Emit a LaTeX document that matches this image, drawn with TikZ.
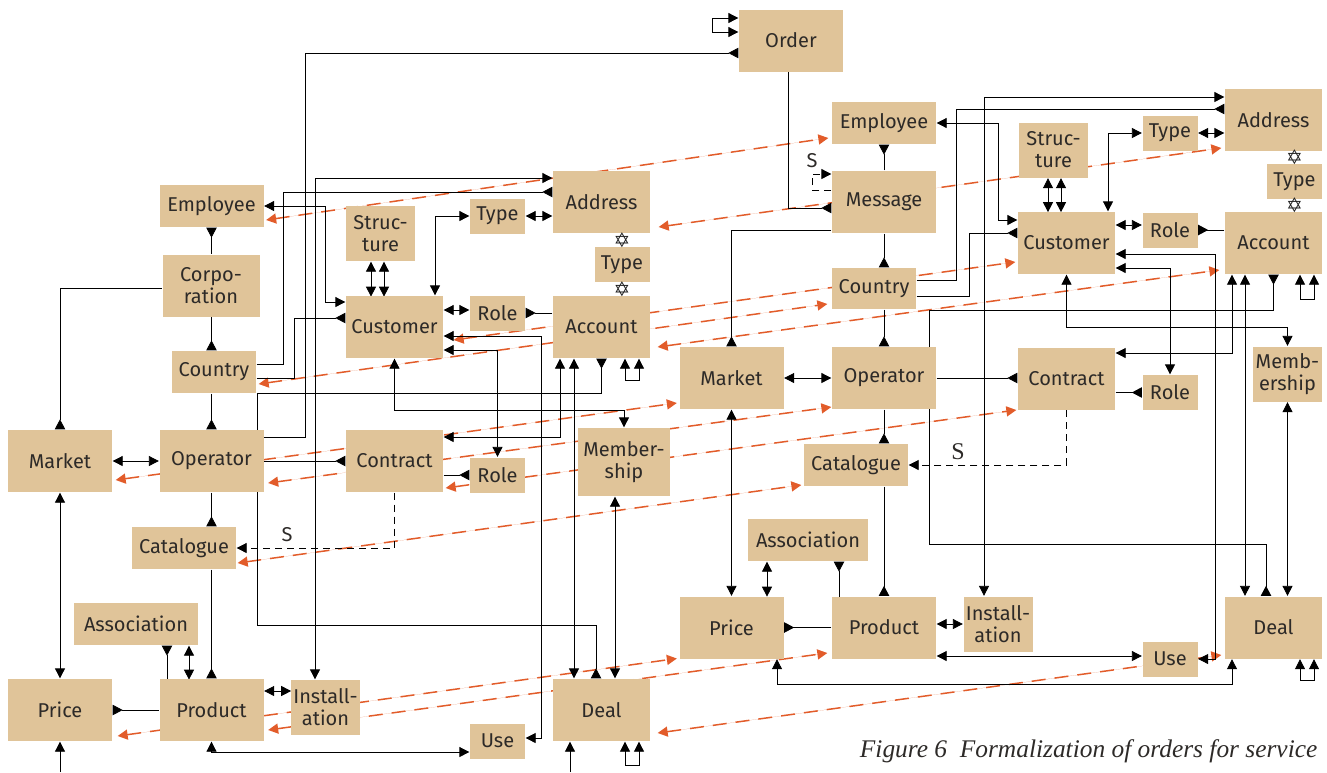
\documentclass[tikz,border=0pt]{standalone}
\usepackage{fontspec}
\setmainfont{Fira Sans}
\newfontfamily\capfont{Liberation Serif}
\newfontfamily\symfont{DejaVu Sans}
\usepackage{tikz}
\usetikzlibrary{arrows.meta, calc, backgrounds}
\definecolor{boxfill}{RGB}{224,196,153}
\definecolor{boxtext}{RGB}{45,42,40}
\definecolor{link}{RGB}{30,30,30}
\definecolor{mapcol}{RGB}{226,92,42}
\tikzset{
  many/.tip={Triangle[reversed, length=5pt, width=5.2pt]},
  box/.style={fill=boxfill, text=boxtext, inner sep=0pt, align=center,
    font=\fontsize{10}{11}\selectfont},
  big/.style={box, minimum width=48.5pt, minimum height=31pt},
  wide/.style={box, minimum width=52pt, minimum height=31pt},
  flat/.style={box, minimum width=52pt, minimum height=21pt},
  small/.style={box, minimum width=27.5pt, minimum height=17.5pt},
  duo/.style={box, minimum width=34.5pt, minimum height=27.5pt},
  mapping/.style={<->, draw=mapcol, fill=mapcol, line width=0.75pt,
    dash pattern=on 7pt off 4.5pt},
  subtype/.style={->, dash pattern=on 3.5pt off 2.5pt},
  star/.style={font=\symfont\bfseries\fontsize{10}{10}\selectfont, inner sep=0pt, text=link},
  lbl/.style={text=boxtext, inner sep=0pt, font=\fontsize{10}{10}\selectfont},
}

\begin{document}
\begin{tikzpicture}[x=0.5pt, y=-0.5pt, >={Triangle[length=5pt, width=5pt]},
    line width=0.65pt, color=link]
    \useasboundingbox (0,0) rectangle (1327,772);
    % left model
    \node[flat] (emplL) at (211.5,206) {Employee};
    \node[big] (corpL) at (211,285.5) {Corpo-\\ration};
    \node[box, minimum width=42pt, minimum height=21pt] (cntyL) at (214,372) {Country};
    \node[wide] (mktL) at (60,461) {Market};
    \node[wide] (opL) at (211.5,461) {Operator};
    \node[flat] (catL) at (184,548) {Catalogue};
    \node[box, minimum width=62pt, minimum height=21pt] (assocL) at (136,624) {Association};
    \node[wide] (priceL) at (60,710) {Price};
    \node[wide] (prodL) at (211.5,710) {Product};
    \node[duo] (instL) at (325.5,707.5) {Install-\\ation};
    \node[small] (useL) at (497.5,741) {Use};
    \node[big] (dealL) at (601.5,710) {Deal};
    \node[duo] (strucL) at (380.5,233.5) {Struc-\\ture};
    \node[small] (typeL) at (497.5,216) {Type};
    \node[big] (addrL) at (601.5,202) {Address};
    \node[small] (type2L) at (622,264.5) {Type};
    \node[big] (custL) at (394.5,327) {Customer};
    \node[small] (role1L) at (497.5,313) {Role};
    \node[big] (acctL) at (601.5,327) {Account};
    \node[big] (contL) at (394.5,461) {Contract};
    \node[small] (role2L) at (497.5,475) {Role};
    \node[box, minimum width=46pt, minimum height=34pt] (membL) at (624,462) {Member-\\ship};
    \node[star] (st1L) at (622,240) {✡};
    \node[star] (st2L) at (622,289) {✡};
    \node[lbl] (sL) at (287,535) {S};
    % right model
    \node[wide] (order) at (791,40.5) {Order};
    \node[flat] (emplR) at (884,123) {Employee};
    \node[wide] (msg) at (884,202) {Message};
    \node[box, minimum width=42pt, minimum height=20.5pt] (cntyR) at (874,288.5) {Country};
    \node[wide] (mktR) at (731.5,378) {Market};
    \node[wide] (opR) at (884,378) {Operator};
    \node[flat] (catR) at (856,465) {Catalogue};
    \node[box, minimum width=60pt, minimum height=21pt] (assocR) at (808,540) {Association};
    \node[wide] (priceR) at (731.5,627.5) {Price};
    \node[wide] (prodR) at (884,627.5) {Product};
    \node[duo] (instR) at (998,624) {Install-\\ation};
    \node[small] (useR) at (1170,659) {Use};
    \node[big] (dealR) at (1273.5,627.5) {Deal};
    \node[duo] (strucR) at (1053.5,150) {Struc-\\ture};
    \node[small] (typeR) at (1170,133) {Type};
    \node[big] (addrR) at (1273.5,120) {Address};
    \node[small] (type2R) at (1294.5,181.5) {Type};
    \node[big] (custR) at (1066.5,243) {Customer};
    \node[small] (role1R) at (1170,230) {Role};
    \node[big] (acctR) at (1273.5,243) {Account};
    \node[big] (contR) at (1066.5,378.5) {Contract};
    \node[small] (role2R) at (1170,392.5) {Role};
    \node[duo] (membR) at (1287.5,374) {Memb-\\ership};
    \node[star] (st1R) at (1294.5,157.5) {✡};
    \node[star] (st2R) at (1294.5,205.5) {✡};
    \node[lbl] (sM) at (812,161) {S};
    \node[text=boxtext, inner sep=0pt, font=\capfont\fontsize{12}{12}\selectfont] (sR) at (958,452) {S};
    \node[anchor=base east, inner sep=0pt, text=boxtext,
      font=\capfont\itshape\fontsize{12.7}{14}\selectfont] (caption) at (1318,757)
      {Figure 6\ \ Formalization of orders for service};
    \coordinate (inPL) at (60,772);
    \coordinate (inDL) at (570,772);

    \begin{scope}[on background layer]
    % mappings between the two models
    \draw[mapping] ($(emplL.east)+(2,14)$) -- ($(emplR.west)+(-3,15)$);
    \draw[mapping] ($(addrL.east)+(8,25)$) -- ($(addrR.west)+(-3,28)$);
    \draw[mapping] ($(cntyL.east)+(2,12)$) -- ($(cntyR.west)+(-4,15.5)$);
    \draw[mapping] ($(custL.east)+(10,13)$) -- ($(custR.west)+(-2,19)$);
    \draw[mapping] ($(acctL.east)+(7,20)$) -- ($(acctR.west)+(-5,27)$);
    \draw[mapping] ($(mktL.east)+(3,19)$) -- ($(mktR.west)+(-2,25)$);
    \draw[mapping] ($(opL.east)+(4,22)$) -- ($(opR.west)+(0,29)$);
    \draw[mapping] ($(contL.east)+(2,27)$) -- ($(contR.west)+(-1,31.5)$);
    \draw[mapping] ($(catL.east)+(1,15)$) -- ($(catR.west)+(-2,20)$);
    \draw[mapping] ($(priceL.east)+(5,26)$) -- ($(priceR.west)+(-2,31)$);
    \draw[mapping] ($(prodL.east)+(4,20)$) -- ($(prodR.west)+(-4,25.5)$);
    \draw[mapping] ($(dealL.east)+(7,23)$) -- ($(dealR.west)+(-3,27.5)$);

    % left model links
    \draw[-many] ($(opL.north east)+(0,8)$) -| (305,53) -- ($(order.west)+(0,12.5)$);
    \draw[-many] (emplL.south |- corpL.north) -- (emplL.south);
    \draw[-many] (emplL.south |- corpL.south) -- (emplL.south |- cntyL.north);
    \draw[-many] (opL.north |- cntyL.south) -- (opL.north);
    \draw[-many] ($(corpL.west)+(0,2.5)$) -| (mktL.north);
    \draw[<->] (mktL.east) -- (opL.west);
    \draw[-many] (opL.south) -- (opL.south |- catL.north);
    \draw[-many] (opL.south |- catL.south) -- (prodL.north);
    \draw[<->] (mktL.south) -- (priceL.north);
    \draw[->] (inPL) -- (priceL.south);
    \draw[-many] (prodL.west) -- (priceL.east);
    \draw[-many] ($(assocL.south)+(31,34)$) -- ($(assocL.south)+(31,0)$);
    \draw[<->] ($(assocL.south)+(53,0)$) -- ++(0,34);
    \draw[<->] ($(prodL.east)+(0,-19)$) -- ++(27,0);
    \draw[<->] (prodL.south) |- ($(useL.west)+(0,11)$);
    \draw[<->] ($(custL.east)+(0,9)$) -| (541,738) -- ($(useL.east)+(0,-3)$);
    \draw[<->] ($(custL.east)+(0,23)$) -| (role2L.north);
    \draw[<->] ($(custL.east)+(0,-17)$) -- ($(role1L.west)+(0,-3)$);
    \draw[-many] (acctL.west |- role1L.east) -- (role1L.east);
    \draw[<->] ($(strucL.south)+(-9.5,0)$) -- ++(0,35);
    \draw[<->] ($(strucL.south)+(3.5,0)$) -- ++(0,35);
    \draw[<->] ($(custL.north)+(40.5,0)$) |- (typeL.west);
    \draw[<->] (typeL.east) -- (typeL.east -| addrL.west);
    \draw[<->] (emplL.east) -| (325,302) -- ($(custL.west)+(0,-25)$);
    \draw[-many] ($(cntyL.east)+(0,6)$) -| (294,318) -- ($(custL.west)+(0,-9)$);
    \draw[-many] ($(cntyL.east)+(0,-8)$) -| (283,192) -- ($(addrL.west)+(0,-10)$);
    \draw[<->] ($(instL.north)+(-10.5,0)$) |- ($(addrL.west)+(0,-24)$);
    \draw[many-many] (acctL.south) |- (257,393) |- (596,625) -- ($(dealL.north)+(-5.5,0)$);
    \draw[<->] ($(acctL.south)+(-41.5,0)$) |- ($(contL.east)+(0,-24)$);
    \draw[<->] ($(acctL.south)+(-27.5,0)$) -- ($(dealL.north)+(-27.5,0)$);
    \draw[<->] ($(acctL.south)+(23.5,0)$) -- ++(0,22) -- ++(14,0) -- ++(0,-22);
    \draw[<->] (custL.south) -- ++(0,52) -| (membL.north);
    \draw[<->] ($(membL.south)+(-9,0)$) -- ($(dealL.north)+(13.5,0)$);
    \draw[-many] (opL.east) -- (contL.west);
    \draw[-many] (contL.east |- role2L.west) -- (role2L.west);
    \draw[subtype] (contL.south) |- (catL.east);
    \draw[->] (inDL) -- (inDL |- dealL.south);
    \draw[<->] ($(dealL.south)+(23.5,0)$) -- ++(0,24) -- ++(14,0) -- ++(0,-24);

    % right model links
    \draw[<->] ($(order.west)+(0,-22.5)$) -- ++(-26,0) -- ++(0,14) -- ++(26,0);
    \draw[-many] ($(order.south)+(-3,0)$) |- ($(msg.west)+(0,6)$);
    \draw[-many] (msg.north) -- (emplR.south);
    \draw[subtype] ($(msg.west)+(0,-12)$) -- ++(-19,0) -- ++(0,-16) -- ++(19,0);
    \draw[-many] ($(msg.west)+(0,28)$) -| (mktR.north);
    \draw[-many] (msg.south) -- (msg.south |- cntyR.north);
    \draw[-many] (opR.north |- cntyR.south) -- (opR.north);
    \draw[-many] (opR.south) -- (opR.south |- catR.north);
    \draw[-many] (opR.south |- catR.south) -- (prodR.north);
    \draw[<->] (mktR.east) -- (opR.west);
    \draw[-many] (opR.east) -- (contR.west |- opR.east);
    \draw[<->] (mktR.south) -- (priceR.north);
    \draw[<->] ($(assocR.south)+(-41,0)$) -- ++(0,35);
    \draw[-many] ($(assocR.south)+(31,35)$) -- ($(assocR.south)+(31,0)$);
    \draw[-many] (prodR.west) -- (priceR.east);
    \draw[<->] ($(priceR.south)+(45.5,0)$) |- (1232,684) -- ($(dealR.south)+(-41.5,0)$);
    \draw[<->] (prodR.east |- instR.west) -- (instR.west);
    \draw[<->] ($(prodR.east)+(0,28.5)$) -- ($(useR.west)+(0,-3)$);
    \draw[<->] ($(custR.east)+(0,11)$) -| (1215,659) -- (useR.east);
    \draw[<->] ($(custR.east)+(0,25)$) -| (role2R.north);
    \draw[<->] ($(custR.east)+(0,-18)$) -- ($(role1R.west)+(0,-5)$);
    \draw[-many] (acctR.west |- role1R.east) -- (role1R.east);
    \draw[<->] ($(strucR.south)+(-5.5,0)$) -- ++(0,34);
    \draw[<->] ($(strucR.south)+(7.5,0)$) -- ++(0,34);
    \draw[<->] ($(custR.north)+(41.5,0)$) |- (typeR.west);
    \draw[<->] (typeR.east) -- (typeR.east -| addrR.west);
    \draw[<->] (emplR.east) -| (998,220) -- ($(custR.west)+(0,-23)$);
    \draw[-many] ($(cntyR.east)+(0,7.5)$) -| (969,233) -- ($(custR.west)+(0,-10)$);
    \draw[-many] ($(cntyR.east)+(0,-8.5)$) -| (956,109) -- ($(addrR.west)+(0,-11)$);
    \draw[<->] ($(instR.north)+(-14,0)$) |- ($(addrR.west)+(0,-23)$);
    \draw[many-many] (acctR.south) |- (929,310) |- (1266,544) -- ($(dealR.north)+(-7.5,0)$);
    \draw[<->] ($(acctR.south)+(-41.5,0)$) |- ($(contR.east)+(0,-25.5)$);
    \draw[<->] ($(acctR.south)+(-28.5,0)$) -- ($(dealR.north)+(-28.5,0)$);
    \draw[<->] ($(acctR.south)+(26.5,0)$) -- ++(0,25) -- ++(14,0) -- ++(0,-25);
    \draw[<->] (custR.south) -- ++(0,53) -| (membR.north);
    \draw[<->] (membR.south) -- (membR.south |- dealR.north);
    \draw[-many] (contR.east |- role2R.west) -- (role2R.west);
    \draw[subtype] (contR.south) |- (catR.east);
    \draw[<->] ($(dealR.south)+(26.5,0)$) -- ++(0,21) -- ++(14,0) -- ++(0,-21);
    \end{scope}
\end{tikzpicture}
\end{document}
